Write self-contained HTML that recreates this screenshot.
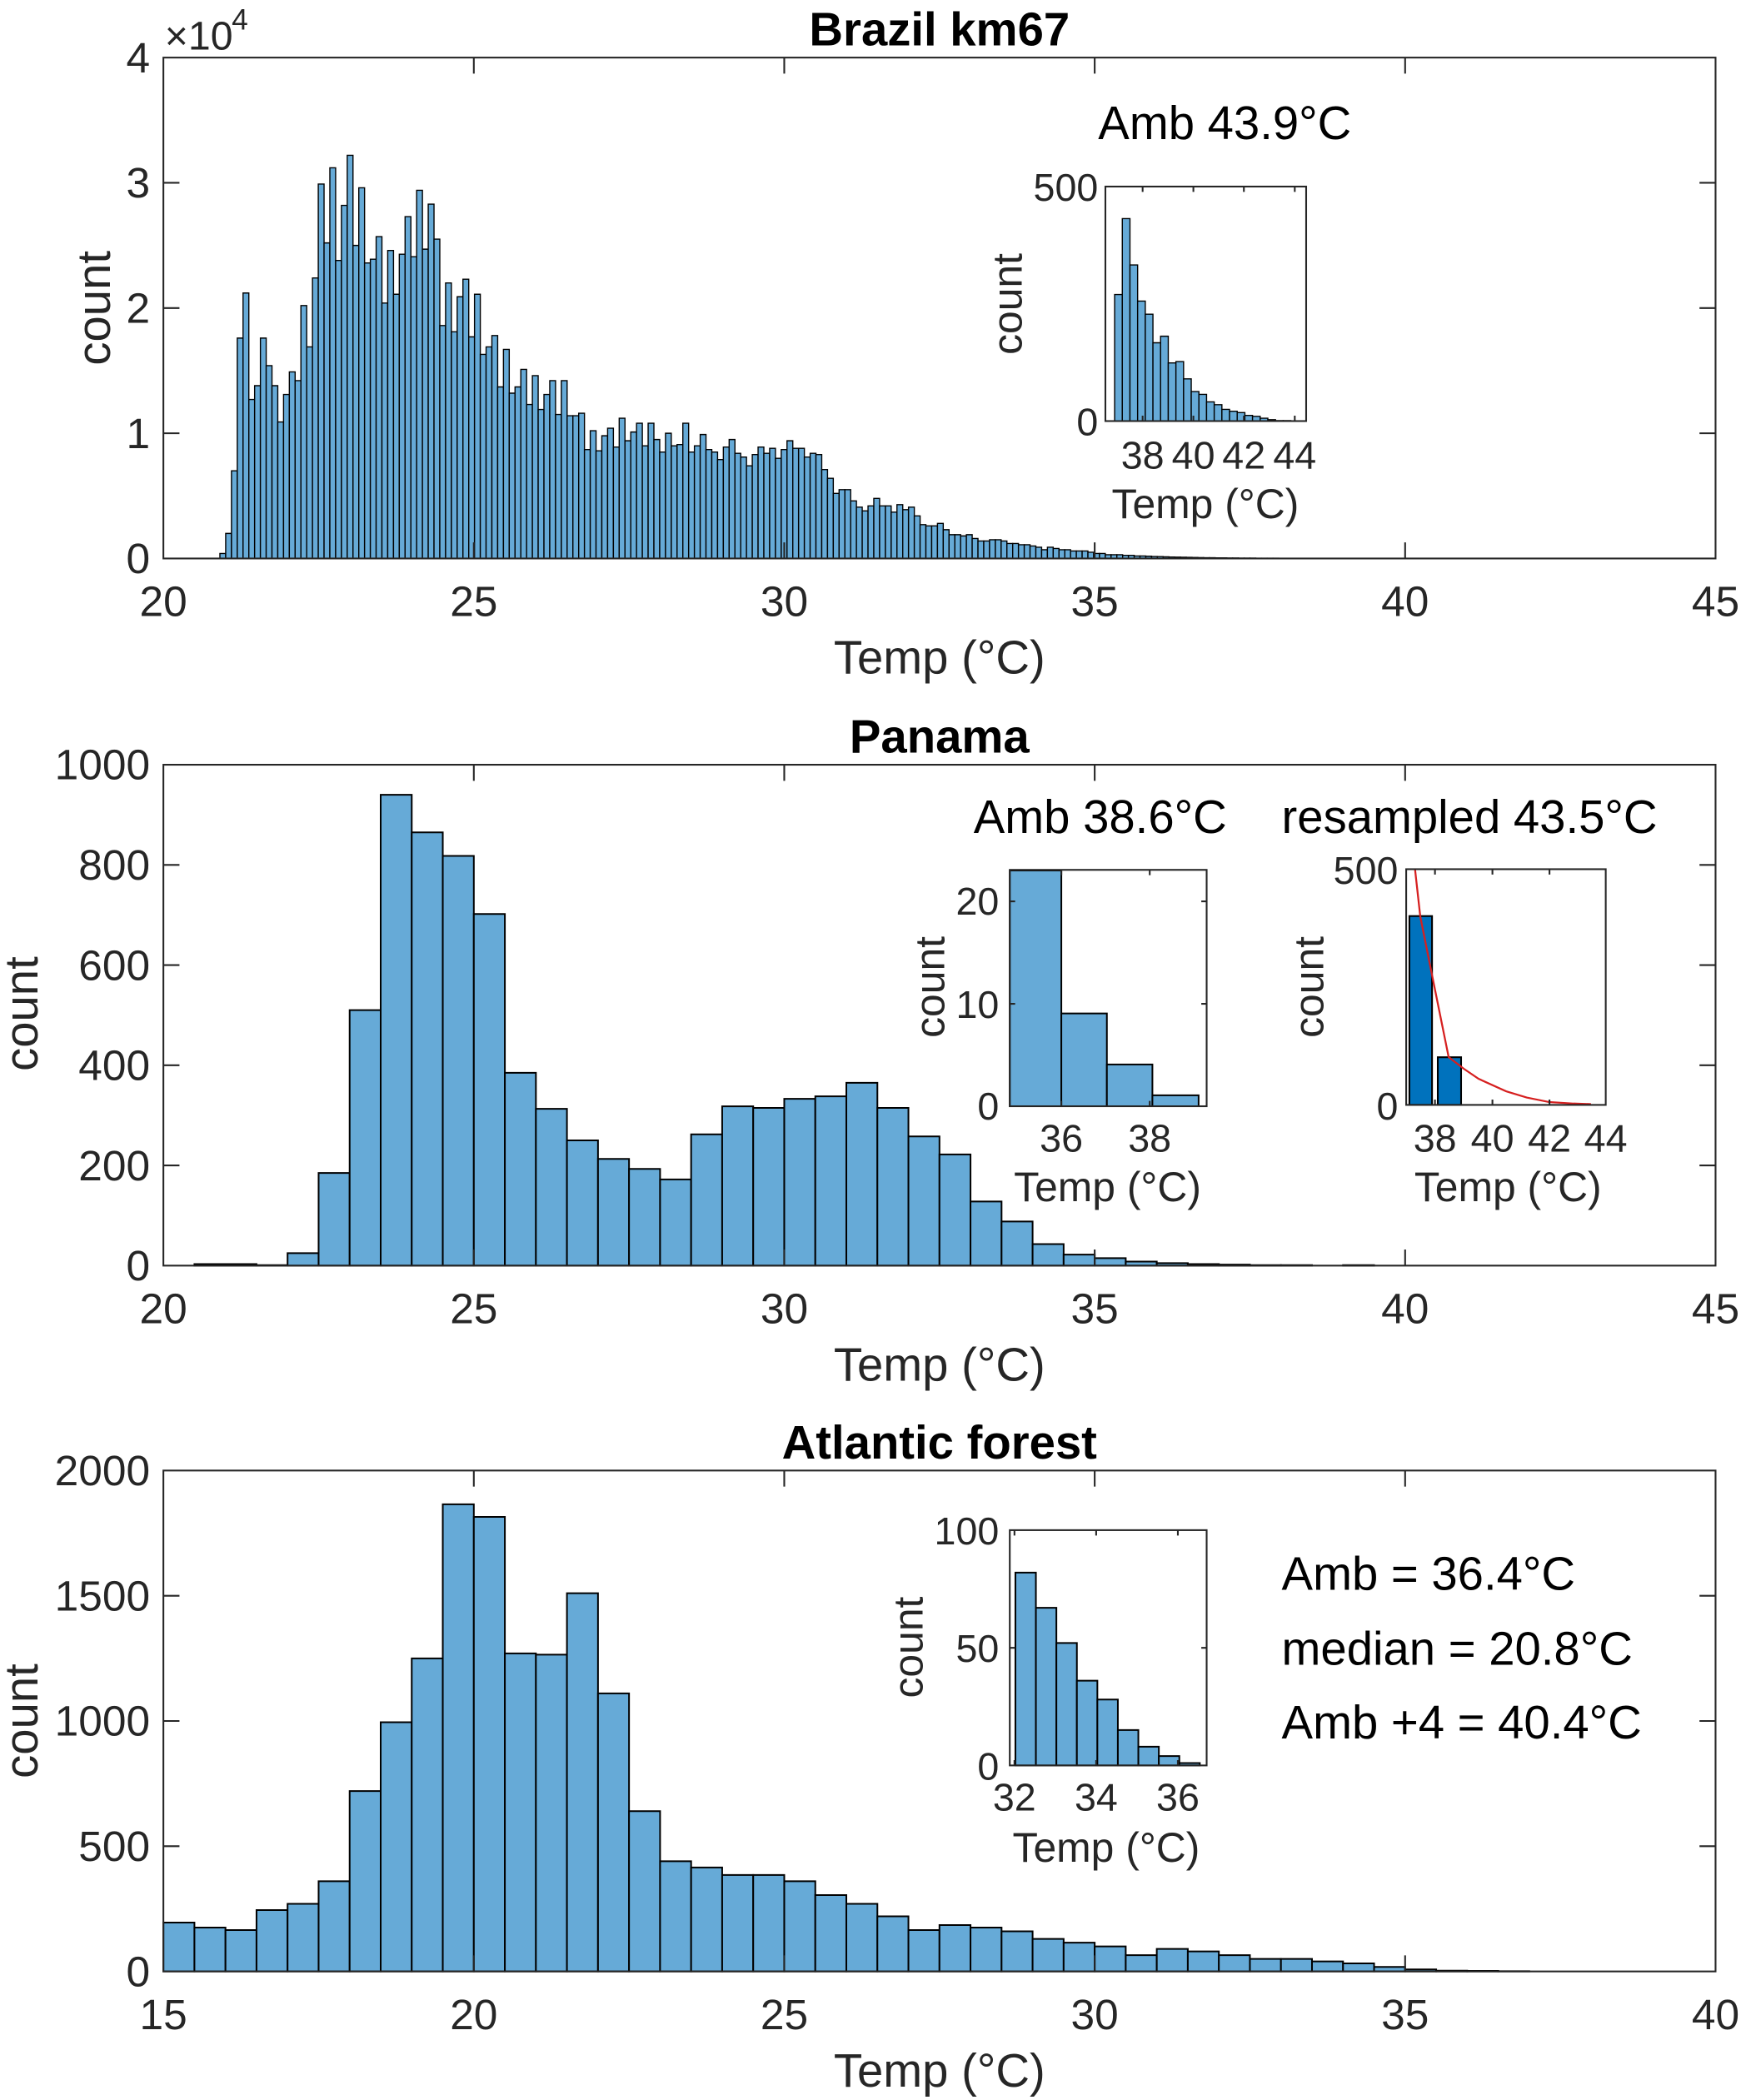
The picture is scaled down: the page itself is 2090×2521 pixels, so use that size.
<!DOCTYPE html>
<html><head><meta charset="utf-8"><style>
html,body{margin:0;padding:0;background:#fff}
svg{display:block}
text{font-family:"Liberation Sans",Arial,sans-serif;fill:#262626}
.b rect{fill:#66AAD7;stroke:#000;stroke-width:1.4;vector-effect:non-scaling-stroke}
.bt rect{fill:#66AAD7;stroke:#000;stroke-width:2;vector-effect:non-scaling-stroke}
.ax{fill:none;stroke:#262626;stroke-width:1.3}
.tk{font-size:32px}
.lb{font-size:35px}
.it{font-size:29px}
.il{font-size:31px}
</style></head><body>
<svg width="2090" height="2521" viewBox="0 0 1300 1568" preserveAspectRatio="none" xmlns="http://www.w3.org/2000/svg">
<rect x="0" y="0" width="1300" height="1568" fill="#fff"/>

<!-- ============ PLOT 1 ============ -->
<g class="b" transform="translate(164.2,417) scale(4.321,-93.5)">
<rect x="0" width="1" height=".04"/><rect x="1" width="1" height=".2"/><rect x="2" width="1" height=".7"/><rect x="3" width="1" height="1.76"/><rect x="4" width="1" height="2.12"/><rect x="5" width="1" height="1.27"/><rect x="6" width="1" height="1.38"/><rect x="7" width="1" height="1.76"/><rect x="8" width="1" height="1.54"/><rect x="9" width="1" height="1.38"/>
<rect x="10" width="1" height="1.09"/><rect x="11" width="1" height="1.31"/><rect x="12" width="1" height="1.49"/><rect x="13" width="1" height="1.42"/><rect x="14" width="1" height="2.02"/><rect x="15" width="1" height="1.69"/><rect x="16" width="1" height="2.24"/><rect x="17" width="1" height="2.99"/><rect x="18" width="1" height="2.52"/><rect x="19" width="1" height="3.12"/>
<rect x="20" width="1" height="2.38"/><rect x="21" width="1" height="2.82"/><rect x="22" width="1" height="3.22"/><rect x="23" width="1" height="2.5"/><rect x="24" width="1" height="2.96"/><rect x="25" width="1" height="2.36"/><rect x="26" width="1" height="2.39"/><rect x="27" width="1" height="2.57"/><rect x="28" width="1" height="2.04"/><rect x="29" width="1" height="2.46"/>
<rect x="30" width="1" height="2.11"/><rect x="31" width="1" height="2.43"/><rect x="32" width="1" height="2.73"/><rect x="33" width="1" height="2.41"/><rect x="34" width="1" height="2.94"/><rect x="35" width="1" height="2.47"/><rect x="36" width="1" height="2.83"/><rect x="37" width="1" height="2.55"/><rect x="38" width="1" height="1.86"/><rect x="39" width="1" height="2.2"/>
<rect x="40" width="1" height="1.81"/><rect x="41" width="1" height="2.09"/><rect x="42" width="1" height="2.23"/><rect x="43" width="1" height="1.77"/><rect x="44" width="1" height="2.11"/><rect x="45" width="1" height="1.63"/><rect x="46" width="1" height="1.69"/><rect x="47" width="1" height="1.78"/><rect x="48" width="1" height="1.37"/><rect x="49" width="1" height="1.67"/>
<rect x="50" width="1" height="1.32"/><rect x="51" width="1" height="1.37"/><rect x="52" width="1" height="1.51"/><rect x="53" width="1" height="1.23"/><rect x="54" width="1" height="1.46"/><rect x="55" width="1" height="1.19"/><rect x="56" width="1" height="1.31"/><rect x="57" width="1" height="1.42"/><rect x="58" width="1" height="1.15"/><rect x="59" width="1" height="1.42"/>
<rect x="60" width="1" height="1.14"/><rect x="61" width="1" height="1.14"/><rect x="62" width="1" height="1.16"/><rect x="63" width="1" height=".87"/><rect x="64" width="1" height="1.02"/><rect x="65" width="1" height=".86"/><rect x="66" width="1" height=".98"/><rect x="67" width="1" height="1.04"/><rect x="68" width="1" height=".89"/><rect x="69" width="1" height="1.12"/>
<rect x="70" width="1" height=".94"/><rect x="71" width="1" height="1.01"/><rect x="72" width="1" height="1.08"/><rect x="73" width="1" height=".9"/><rect x="74" width="1" height="1.08"/><rect x="75" width="1" height=".95"/><rect x="76" width="1" height=".85"/><rect x="77" width="1" height="1.0"/><rect x="78" width="1" height=".9"/><rect x="79" width="1" height=".91"/>
<rect x="80" width="1" height="1.08"/><rect x="81" width="1" height=".85"/><rect x="82" width="1" height=".9"/><rect x="83" width="1" height=".99"/><rect x="84" width="1" height=".87"/><rect x="85" width="1" height=".85"/><rect x="86" width="1" height=".79"/><rect x="87" width="1" height=".89"/><rect x="88" width="1" height=".95"/><rect x="89" width="1" height=".84"/>
<rect x="90" width="1" height=".81"/><rect x="91" width="1" height=".74"/><rect x="92" width="1" height=".83"/><rect x="93" width="1" height=".89"/><rect x="94" width="1" height=".84"/><rect x="95" width="1" height=".88"/><rect x="96" width="1" height=".8"/><rect x="97" width="1" height=".87"/><rect x="98" width="1" height=".94"/><rect x="99" width="1" height=".88"/>
<rect x="100" width="1" height=".88"/><rect x="101" width="1" height=".81"/><rect x="102" width="1" height=".84"/><rect x="103" width="1" height=".83"/><rect x="104" width="1" height=".71"/><rect x="105" width="1" height=".64"/><rect x="106" width="1" height=".52"/><rect x="107" width="1" height=".55"/><rect x="108" width="1" height=".55"/><rect x="109" width="1" height=".46"/>
<rect x="110" width="1" height=".41"/><rect x="111" width="1" height=".38"/><rect x="112" width="1" height=".42"/><rect x="113" width="1" height=".48"/><rect x="114" width="1" height=".42"/><rect x="115" width="1" height=".42"/><rect x="116" width="1" height=".37"/><rect x="117" width="1" height=".43"/><rect x="118" width="1" height=".39"/><rect x="119" width="1" height=".41"/>
<rect x="120" width="1" height=".34"/><rect x="121" width="1" height=".27"/><rect x="122" width="1" height=".26"/><rect x="123" width="1" height=".26"/><rect x="124" width="1" height=".28"/><rect x="125" width="1" height=".23"/><rect x="126" width="1" height=".19"/><rect x="127" width="1" height=".19"/><rect x="128" width="1" height=".18"/><rect x="129" width="1" height=".19"/>
<rect x="130" width="1" height=".16"/><rect x="131" width="1" height=".14"/><rect x="132" width="1" height=".14"/><rect x="133" width="1" height=".15"/><rect x="134" width="1" height=".15"/><rect x="135" width="1" height=".14"/><rect x="136" width="1" height=".12"/><rect x="137" width="1" height=".12"/><rect x="138" width="1" height=".11"/><rect x="139" width="1" height=".11"/>
<rect x="140" width="1" height=".1"/><rect x="141" width="1" height=".09"/><rect x="142" width="1" height=".07"/><rect x="143" width="1" height=".09"/><rect x="144" width="1" height=".08"/><rect x="145" width="1" height=".07"/><rect x="146" width="1" height=".07"/><rect x="147" width="1" height=".06"/><rect x="148" width="1" height=".06"/><rect x="149" width="1" height=".06"/>
<rect x="150" width="1" height=".05"/><rect x="151" width="1" height=".04"/><rect x="152" width="1" height=".04"/><rect x="153" width="1" height=".03"/><rect x="154" width="1" height=".03"/><rect x="155" width="1" height=".03"/><rect x="156" width="1" height=".025"/><rect x="157" width="1" height=".025"/><rect x="158" width="1" height=".02"/><rect x="159" width="1" height=".02"/>
<rect x="160" width="1" height=".018"/><rect x="161" width="1" height=".016"/><rect x="162" width="1" height=".015"/><rect x="163" width="1" height=".013"/><rect x="164" width="1" height=".012"/><rect x="165" width="1" height=".011"/><rect x="166" width="1" height=".01"/><rect x="167" width="1" height=".009"/><rect x="168" width="1" height=".008"/><rect x="169" width="1" height=".007"/>
<rect x="170" width="1" height=".006"/><rect x="171" width="1" height=".006"/><rect x="172" width="1" height=".005"/><rect x="173" width="1" height=".005"/><rect x="174" width="1" height=".004"/><rect x="175" width="1" height=".004"/><rect x="176" width="1" height=".003"/><rect x="177" width="1" height=".003"/><rect x="178" width="1" height=".003"/><rect x="179" width="1" height=".002"/>
<rect x="180" width="1" height=".002"/><rect x="181" width="1" height=".002"/><rect x="182" width="1" height=".002"/><rect x="183" width="1" height=".001"/><rect x="184" width="1" height=".001"/>
</g>
<rect class="ax" x="122" y="43" width="1159" height="374"/>
<path class="ax" d="M353.8 417v-12M585.6 417v-12M817.4 417v-12M1049.2 417v-12M353.8 43v12M585.6 43v12M817.4 43v12M1049.2 43v12M122 323.5h12M122 230h12M122 136.5h12M1281 323.5h-12M1281 230h-12M1281 136.5h-12"/>
<g class="tk" text-anchor="end">
<text x="112" y="428">0</text><text x="112" y="334.5">1</text><text x="112" y="241">2</text><text x="112" y="147.5">3</text><text x="112" y="54">4</text>
</g>
<g class="tk" text-anchor="middle">
<text x="122" y="460">20</text><text x="353.8" y="460">25</text><text x="585.6" y="460">30</text><text x="817.4" y="460">35</text><text x="1049.2" y="460">40</text><text x="1281" y="460">45</text>
</g>
<text x="123" y="37" style="font-size:30px">×10</text><text x="173" y="22" style="font-size:22px">4</text>
<text class="lb" x="701.5" y="34" text-anchor="middle" style="font-weight:bold;fill:#000">Brazil km67</text>
<text class="lb" x="701.5" y="503" text-anchor="middle">Temp (°C)</text>
<text class="lb" text-anchor="middle" transform="translate(82,230) rotate(-90)">count</text>
<text class="lb" x="820" y="104" style="fill:#000">Amb 43.9°C</text>

<!-- inset 1 -->
<g class="b" transform="translate(832.3,314.4) scale(5.72,-0.35)">
<rect x="0" width="1" height="270"/><rect x="1" width="1" height="432"/><rect x="2" width="1" height="333"/><rect x="3" width="1" height="256"/><rect x="4" width="1" height="228"/><rect x="5" width="1" height="167"/><rect x="6" width="1" height="181"/><rect x="7" width="1" height="124"/><rect x="8" width="1" height="127"/><rect x="9" width="1" height="90"/><rect x="10" width="1" height="63"/><rect x="11" width="1" height="57"/><rect x="12" width="1" height="41"/><rect x="13" width="1" height="35"/><rect x="14" width="1" height="25"/><rect x="15" width="1" height="21"/><rect x="16" width="1" height="18"/><rect x="17" width="1" height="12"/><rect x="18" width="1" height="10"/><rect x="19" width="1" height="6"/><rect x="20" width="1" height="3"/><rect x="21" width="1" height="1"/><rect x="22" width="1" height="1"/>
</g>
<rect class="ax" x="825.4" y="139.3" width="149.9" height="175.1"/>
<path class="ax" d="M853.2 314.4v-4M891.1 314.4v-4M928.8 314.4v-4M966.8 314.4v-4M853.2 139.3v4M891.1 139.3v4M928.8 139.3v4M966.8 139.3v4"/>
<g class="it" text-anchor="end"><text x="820" y="150">500</text><text x="820" y="325">0</text></g>
<g class="it" text-anchor="middle"><text x="853.2" y="350">38</text><text x="891.1" y="350">40</text><text x="928.8" y="350">42</text><text x="966.8" y="350">44</text></g>
<text class="il" x="900" y="387" text-anchor="middle">Temp (°C)</text>
<text class="il" text-anchor="middle" transform="translate(763,227) rotate(-90)">count</text>

<!-- ============ PLOT 2 ============ -->
<g class="bt" transform="translate(122,945) scale(46.36,-0.374) translate(-20,0)">
<rect x="20.5" width="1" height="3"/><rect x="21.5" width=".5" height="1"/><rect x="22" width=".5" height="25"/><rect x="22.5" width=".5" height="185"/><rect x="23" width=".5" height="510"/><rect x="23.5" width=".5" height="940"/><rect x="24" width=".5" height="865"/><rect x="24.5" width=".5" height="818"/><rect x="25" width=".5" height="702"/><rect x="25.5" width=".5" height="385"/><rect x="26" width=".5" height="313"/><rect x="26.5" width=".5" height="250"/><rect x="27" width=".5" height="213"/><rect x="27.5" width=".5" height="193"/><rect x="28" width=".5" height="172"/><rect x="28.5" width=".5" height="262"/><rect x="29" width=".5" height="318"/><rect x="29.5" width=".5" height="315"/><rect x="30" width=".5" height="333"/><rect x="30.5" width=".5" height="338"/><rect x="31" width=".5" height="365"/><rect x="31.5" width=".5" height="315"/><rect x="32" width=".5" height="258"/><rect x="32.5" width=".5" height="222"/><rect x="33" width=".5" height="128"/><rect x="33.5" width=".5" height="88"/><rect x="34" width=".5" height="43"/><rect x="34.5" width=".5" height="22"/><rect x="35" width=".5" height="15"/><rect x="35.5" width=".5" height="8"/><rect x="36" width=".5" height="5"/><rect x="36.5" width=".5" height="3"/><rect x="37" width=".5" height="2"/><rect x="37.5" width=".5" height="1"/><rect x="38" width=".5" height="1"/><rect x="39" width=".5" height="1"/>
</g>
<rect class="ax" x="122" y="571" width="1159" height="374"/>
<path class="ax" d="M353.8 945v-12M585.6 945v-12M817.4 945v-12M1049.2 945v-12M353.8 571v12M585.6 571v12M817.4 571v12M1049.2 571v12M122 870.2h12M122 795.4h12M122 720.6h12M122 645.8h12M1281 870.2h-12M1281 795.4h-12M1281 720.6h-12M1281 645.8h-12"/>
<g class="tk" text-anchor="end">
<text x="112" y="956">0</text><text x="112" y="881.2">200</text><text x="112" y="806.4">400</text><text x="112" y="731.6">600</text><text x="112" y="656.8">800</text><text x="112" y="582">1000</text>
</g>
<g class="tk" text-anchor="middle">
<text x="122" y="988">20</text><text x="353.8" y="988">25</text><text x="585.6" y="988">30</text><text x="817.4" y="988">35</text><text x="1049.2" y="988">40</text><text x="1281" y="988">45</text>
</g>
<text class="lb" x="701.5" y="562" text-anchor="middle" style="font-weight:bold;fill:#000">Panama</text>
<text class="lb" x="701.5" y="1031" text-anchor="middle">Temp (°C)</text>
<text class="lb" text-anchor="middle" transform="translate(28,757) rotate(-90)">count</text>
<text class="lb" x="727" y="622" style="fill:#000">Amb 38.6°C</text>
<text class="lb" x="957" y="622" style="fill:#000">resampled 43.5°C</text>

<!-- inset 2A -->
<g class="bt">
<rect x="754" y="650" width="38.5" height="176"/><rect x="792.5" y="756.7" width="34" height="69.3"/><rect x="826.5" y="794.8" width="34" height="31.2"/><rect x="860.5" y="817.8" width="34.5" height="8.2"/>
</g>
<rect class="ax" x="754" y="649.5" width="147" height="176.5"/>
<path class="ax" d="M792.5 826v-4M858.5 826v-4M792.5 649.5v4M858.5 649.5v4M754 749.5h4M754 673h4M901 749.5h-4M901 673h-4"/>
<g class="it" text-anchor="end"><text x="746" y="683">20</text><text x="746" y="760">10</text><text x="746" y="836">0</text></g>
<g class="it" text-anchor="middle"><text x="792.5" y="860">36</text><text x="858.5" y="860">38</text></g>
<text class="il" x="827" y="897" text-anchor="middle">Temp (°C)</text>
<text class="il" text-anchor="middle" transform="translate(705,737) rotate(-90)">count</text>

<!-- inset 2B -->
<g>
<rect x="1052.4" y="684" width="16.9" height="141" fill="#0072BD" stroke="#000" stroke-width="1.3"/>
<rect x="1073.6" y="789.4" width="17.4" height="35.6" fill="#0072BD" stroke="#000" stroke-width="1.3"/>
</g>
<polyline points="1056.6,649 1060.5,684.2 1068.6,724.6 1081.7,789.3 1093,798 1104,805.5 1124.6,814.8 1140,819.5 1156.9,822.9 1175,824 1188,824.4" fill="none" stroke="#D62020" stroke-width="1.4"/>
<rect class="ax" x="1050" y="649" width="149" height="176"/>
<path class="ax" d="M1071.5 825v-4M1114.4 825v-4M1157 825v-4M1071.5 649v4M1114.4 649v4M1157 649v4"/>
<g class="it" text-anchor="end"><text x="1044" y="660">500</text><text x="1044" y="836">0</text></g>
<g class="it" text-anchor="middle"><text x="1071.5" y="860">38</text><text x="1114.4" y="860">40</text><text x="1157" y="860">42</text><text x="1199" y="860">44</text></g>
<text class="il" x="1126" y="897" text-anchor="middle">Temp (°C)</text>
<text class="il" text-anchor="middle" transform="translate(988,737) rotate(-90)">count</text>

<!-- ============ PLOT 3 ============ -->
<g class="bt" transform="translate(122,1472) scale(46.36,-0.187) translate(-15,0)">
<rect x="15" width=".5" height="195"/><rect x="15.5" width=".5" height="175"/><rect x="16" width=".5" height="165"/><rect x="16.5" width=".5" height="245"/><rect x="17" width=".5" height="270"/><rect x="17.5" width=".5" height="360"/><rect x="18" width=".5" height="720"/><rect x="18.5" width=".5" height="995"/><rect x="19" width=".5" height="1250"/><rect x="19.5" width=".5" height="1865"/><rect x="20" width=".5" height="1815"/><rect x="20.5" width=".5" height="1270"/><rect x="21" width=".5" height="1265"/><rect x="21.5" width=".5" height="1510"/><rect x="22" width=".5" height="1110"/><rect x="22.5" width=".5" height="640"/><rect x="23" width=".5" height="440"/><rect x="23.5" width=".5" height="415"/><rect x="24" width=".5" height="385"/><rect x="24.5" width=".5" height="385"/><rect x="25" width=".5" height="360"/><rect x="25.5" width=".5" height="305"/><rect x="26" width=".5" height="270"/><rect x="26.5" width=".5" height="220"/><rect x="27" width=".5" height="165"/><rect x="27.5" width=".5" height="185"/><rect x="28" width=".5" height="175"/><rect x="28.5" width=".5" height="160"/><rect x="29" width=".5" height="130"/><rect x="29.5" width=".5" height="115"/><rect x="30" width=".5" height="100"/><rect x="30.5" width=".5" height="65"/><rect x="31" width=".5" height="90"/><rect x="31.5" width=".5" height="80"/><rect x="32" width=".5" height="65"/><rect x="32.5" width=".5" height="50"/><rect x="33" width=".5" height="50"/><rect x="33.5" width=".5" height="40"/><rect x="34" width=".5" height="32"/><rect x="34.5" width=".5" height="18"/><rect x="35" width=".5" height="8"/><rect x="35.5" width=".5" height="3"/><rect x="36" width=".5" height="2"/><rect x="36.5" width=".5" height="1"/>
</g>
<rect class="ax" x="122" y="1098" width="1159" height="374"/>
<path class="ax" d="M353.8 1472v-12M585.6 1472v-12M817.4 1472v-12M1049.2 1472v-12M353.8 1098v12M585.6 1098v12M817.4 1098v12M1049.2 1098v12M122 1378.5h12M122 1285h12M122 1191.5h12M1281 1378.5h-12M1281 1285h-12M1281 1191.5h-12"/>
<g class="tk" text-anchor="end">
<text x="112" y="1483">0</text><text x="112" y="1389.5">500</text><text x="112" y="1296">1000</text><text x="112" y="1202.5">1500</text><text x="112" y="1109">2000</text>
</g>
<g class="tk" text-anchor="middle">
<text x="122" y="1515">15</text><text x="353.8" y="1515">20</text><text x="585.6" y="1515">25</text><text x="817.4" y="1515">30</text><text x="1049.2" y="1515">35</text><text x="1281" y="1515">40</text>
</g>
<text class="lb" x="701.5" y="1089" text-anchor="middle" style="font-weight:bold;fill:#000">Atlantic forest</text>
<text class="lb" x="701.5" y="1558" text-anchor="middle">Temp (°C)</text>
<text class="lb" text-anchor="middle" transform="translate(28,1285) rotate(-90)">count</text>
<text class="lb" x="957" y="1187" style="fill:#000">Amb = 36.4°C</text>
<text class="lb" x="957" y="1243" style="fill:#000">median = 20.8°C</text>
<text class="lb" x="957" y="1298" style="fill:#000">Amb +4 = 40.4°C</text>

<!-- inset 3 -->
<g class="bt">
<rect x="758.2" y="1174.2" width="15.3" height="144"/><rect x="773.5" y="1200.5" width="15.3" height="117.7"/><rect x="788.8" y="1226.8" width="15.3" height="91.4"/><rect x="804.1" y="1254.9" width="15.3" height="63.3"/><rect x="819.4" y="1269" width="15.3" height="49.2"/><rect x="834.7" y="1291.8" width="15.3" height="26.4"/><rect x="850" y="1304.2" width="15.3" height="14"/><rect x="865.3" y="1311.2" width="15.3" height="7"/><rect x="880.6" y="1316.4" width="15.3" height="1.8"/>
</g>
<rect class="ax" x="754" y="1142.5" width="147" height="175.7"/>
<path class="ax" d="M757.5 1318.2v-4M818.5 1318.2v-4M879.5 1318.2v-4M757.5 1142.5v4M818.5 1142.5v4M879.5 1142.5v4M754 1230.4h4M901 1230.4h-4"/>
<g class="it" text-anchor="end"><text x="746" y="1153">100</text><text x="746" y="1241">50</text><text x="746" y="1329">0</text></g>
<g class="it" text-anchor="middle"><text x="757.5" y="1352">32</text><text x="818.5" y="1352">34</text><text x="879.5" y="1352">36</text></g>
<text class="il" x="826" y="1390" text-anchor="middle">Temp (°C)</text>
<text class="il" text-anchor="middle" transform="translate(689,1230) rotate(-90)">count</text>
</svg>
</body></html>
